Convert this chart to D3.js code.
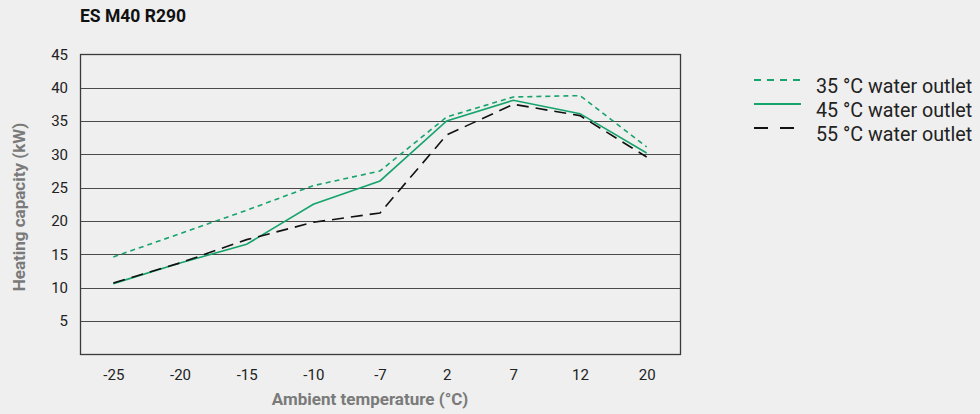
<!DOCTYPE html>
<html><head><meta charset="utf-8">
<script src="https://cdn.jsdelivr.net/npm/d3@7"></script>
<style>
html,body{margin:0;padding:0;background:#eeefee;}
svg{display:block;font-family:Roboto,"Liberation Sans",sans-serif;}
</style></head>
<body><svg id="c" width="980" height="414"></svg>
<script>
const categories = ["-25","-20","-15","-10","-7","2","7","12","20"];
const s35 = [14.6, 18.1, 21.6, 25.3, 27.5, 35.6, 38.6, 38.8, 31.1];
const s45 = [10.6, 13.7, 16.5, 22.5, 26.0, 35.0, 38.1, 36.1, 30.2];
const s55 = [10.7, 13.7, 17.2, 19.8, 21.2, 32.9, 37.5, 35.8, 29.6];
const yTicks = [5,10,15,20,25,30,35,40,45];
const seriesNames = ["35 °C water outlet","45 °C water outlet","55 °C water outlet"];
const title = "ES M40 R290";
const xTitle = "Ambient temperature (°C)";
const yTitle = "Heating capacity (kW)";

const svg = d3.select("#c");
const L=80,R=680,T=54.3,B=354.3;
const green="#16a36c";
const x = d3.scalePoint().domain(categories).range([L,R]).padding(0.5);
const y = d3.scaleLinear().domain([0,45]).range([B,T]);

svg.append("text").attr("x",80).attr("y",22).attr("font-size",17.5).attr("font-weight","bold").attr("fill","#111").text(title);

// grid
svg.append("g").selectAll("line").data(yTicks).join("line")
 .attr("x1",L).attr("x2",R).attr("y1",d=>Math.round(y(d))+0.5).attr("y2",d=>Math.round(y(d))+0.5)
 .attr("stroke","#4a4a4a").attr("stroke-width",1.2);
svg.append("rect").attr("x",L+0.5).attr("y",Math.round(T)+0.5).attr("width",R-L).attr("height",Math.round(B)-Math.round(T))
 .attr("fill","none").attr("stroke","#3a3a3a").attr("stroke-width",1.3);

// y axis labels
const ya = svg.append("g").attr("transform",`translate(${L},0)`).call(d3.axisLeft(y).tickValues(yTicks).tickSize(0).tickPadding(12));
ya.select(".domain").remove();
ya.selectAll("text").attr("font-size",15).attr("fill","#222").attr("font-family","Roboto,sans-serif");
const xa = svg.append("g").attr("transform",`translate(0,${B})`).call(d3.axisBottom(x).tickSize(0).tickPadding(15));
xa.select(".domain").remove();
xa.selectAll("text").attr("font-size",15).attr("fill","#222").attr("font-family","Roboto,sans-serif");

svg.append("text").attr("x",370).attr("y",405).attr("text-anchor","middle").attr("font-size",17).attr("font-weight","bold").attr("fill","#7a7a7a").text(xTitle);
svg.append("text").attr("transform","translate(24.5,207) rotate(-90)").attr("text-anchor","middle").attr("font-size",17).attr("font-weight","bold").attr("fill","#7a7a7a").text(yTitle);

const styles=[{c:green,w:1.6,d:"5,4"},{c:green,w:1.6,d:null},{c:"#111",w:1.6,d:"12,7"}];
const line = d3.line().x((d,i)=>x(categories[i])).y(d=>y(d));
[s35,s45,s55].forEach((s,k)=>{
  svg.append("path").datum(s).attr("d",line).attr("fill","none").attr("stroke",styles[k].c)
   .attr("stroke-width",styles[k].w).attr("stroke-dasharray",styles[k].d);
});

// legend
const lg = svg.append("g");
seriesNames.forEach((n,k)=>{
  const yy = 80 + k*24;
  lg.append("line").attr("x1",754).attr("x2",801).attr("y1",yy).attr("y2",yy).attr("stroke",styles[k].c)
    .attr("stroke-width",2).attr("stroke-dasharray",k===0?"7,6":(k===2?"14,12":null));
  lg.append("text").attr("x",816).attr("y",yy+12.5).attr("font-size",19.7).attr("fill","#222").text(n);
});
</script></body></html>
